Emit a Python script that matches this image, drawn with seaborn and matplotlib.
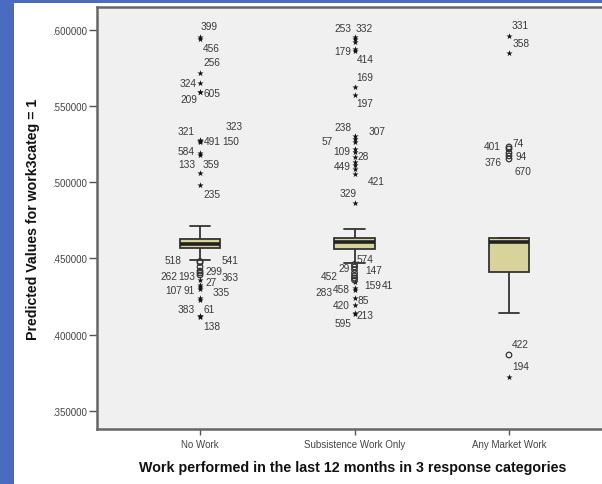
import numpy as np
import pandas as pd
import seaborn as sns
import matplotlib.pyplot as plt
from matplotlib.patches import Rectangle
from matplotlib.ticker import FuncFormatter

groups = ["No Work", "Subsistence Work Only", "Any Market Work"]

# five-number summaries: low whisker, Q1, median, Q3, high whisker
box_nowork = [0.4492, 0.4568, 0.4598, 0.4627, 0.4715]
box_subsist = [0.4468, 0.4562, 0.4610, 0.4634, 0.4693]
box_market = [0.4142, 0.4413, 0.4610, 0.4631, 0.4634]

# outliers / extremes (o = outlier, * = extreme, as SPSS draws them)
nowork_vals = [0.5952, 0.5941, 0.5718, 0.5650, 0.5595, 0.5590, 0.5273, 0.5269,
               0.5266, 0.5278, 0.5192, 0.5179, 0.5061, 0.4984,
               0.4480, 0.4473, 0.4444, 0.4417, 0.4404, 0.4391, 0.4358, 0.4326,
               0.4312, 0.4299, 0.4240, 0.4227, 0.4122, 0.4119, 0.4115]
nowork_ids = ["399", "456", "256", "324", "605", "209", "321", "491",
              "150", "323", "584", "133", "359", "235",
              "518", "541", "299", "193", "262", "363", "27", "91",
              "107", "335", "", "", "383", "61", "138"]
nowork_kind = ["*"] * 14 + ["o"] * 6 + ["*"] * 9

subsist_vals = [0.5951, 0.5941, 0.5924, 0.5875, 0.5862, 0.5624, 0.5575, 0.5301,
                0.5284, 0.5265, 0.5219, 0.5199, 0.5166, 0.5133, 0.5113, 0.5087,
                0.5054, 0.4864,
                0.4460, 0.4444, 0.4427, 0.4404, 0.4385, 0.4371, 0.4358, 0.4345,
                0.4306, 0.4293, 0.4240, 0.4197, 0.4142, 0.4135]
subsist_ids = ["253", "332", "", "179", "414", "169", "197", "238",
               "307", "57", "109", "28", "", "449", "", "",
               "421", "329",
               "574", "29", "147", "452", "", "", "159", "41",
               "458", "283", "85", "420", "213", "595"]
subsist_kind = ["*"] * 18 + ["o"] * 7 + ["*"] * 7

market_vals = [0.5963, 0.5847, 0.5232, 0.5219, 0.5192, 0.5173, 0.5153, 0.3866, 0.3723]
market_ids = ["331", "358", "401", "74", "94", "376", "670", "422", "194"]
market_kind = ["*", "*", "o", "o", "o", "o", "o", "o", "*"]

# label placement: pixel offset from the marker (dx, dy downwards) and alignment
nowork_lab = [(1, -11, "left"), (3, 9, "left"), (3, -11, "left"), (-3, 0, "right"),
              (3, 1, "left"), (-3, 7, "right"), (-5, -10, "right"), (4, 0, "left"),
              (22, -1, "left"), (26, -14, "left"), (-5, -2, "right"), (-5, 9, "right"),
              (3, -9, "left"), (3, 9, "left"),
              (-18, -1.5, "right"), (22, -2.5, "left"), (5, 4, "left"), (-5, 5, "right"),
              (-23, 3, "right"), (22, 2, "left"), (5, 2, "left"), (-5, 5, "right"),
              (-18, 3, "right"), (13, 3, "left"), (0, 0, "left"), (0, 0, "left"),
              (-5, -7, "right"), (3, -7.5, "left"), (3, 9, "left")]
subsist_lab = [(-3, -9.5, "right"), (1, -11, "left"), (0, 0, "left"), (-3, 2, "right"),
               (2, 8, "left"), (2, -10, "left"), (2, 8, "left"), (-3, -9.5, "right"),
               (14, -8, "left"), (-22, -1, "right"), (-4, 2, "right"), (3, 4, "left"),
               (0, 0, "left"), (-4, 4, "right"), (0, 0, "left"), (0, 0, "left"),
               (13, 7, "left"), (-6, -10, "center"),
               (2, -5.5, "left"), (-5, 1, "right"), (11, 0.5, "left"), (-17, 3, "right"),
               (0, 0, "left"), (0, 0, "left"), (10, 5, "left"), (27, 3, "left"),
               (-5, 1, "right"), (-22, 2, "right"), (3, 2, "left"), (-5, 0.5, "right"),
               (2, 2, "left"), (-3, 9, "right")]
market_lab = [(3, -10.5, "left"), (4, -10, "left"), (-8, -1, "right"), (4, -6, "left"),
              (7, 3, "left"), (-7, 6, "right"), (6, 12, "left"), (3, -11, "left"),
              (3, -10.5, "left")]

boxes = pd.DataFrame({
    "group": np.repeat(groups, 5),
    "value": box_nowork + box_subsist + box_market,
})

outl = pd.DataFrame({
    "group": [groups[0]] * len(nowork_vals) + [groups[1]] * len(subsist_vals)
             + [groups[2]] * len(market_vals),
    "value": nowork_vals + subsist_vals + market_vals,
    "id": nowork_ids + subsist_ids + market_ids,
    "kind": nowork_kind + subsist_kind + market_kind,
})
outl["pos"] = outl["group"].map({g: i for i, g in enumerate(groups)})
placement = nowork_lab + subsist_lab + market_lab

sns.set_style("white")
plt.rcParams["font.family"] = ["Liberation Sans", "DejaVu Sans"]

fig = plt.figure(figsize=(6.02, 4.85), dpi=100, facecolor="#4b6bc0")
fig.patches.append(Rectangle((14 / 602, 0), 1, 1 - 4 / 485, transform=fig.transFigure,
                             facecolor="white", edgecolor="none", zorder=-10))
ax = fig.add_axes([97 / 602, 55 / 485, 511 / 602, 422 / 485])
ax.set_facecolor("#f0f0f0")

sns.boxplot(data=boxes, x="group", y="value", order=groups, ax=ax,
            width=0.26, whis=(0, 100), showfliers=False, saturation=1,
            color="#d8d39b", linecolor="#333333", linewidth=1.3,
            medianprops=dict(color="#222222", linewidth=2.6))

stars = outl[outl["kind"] == "*"]
circles = outl[outl["kind"] == "o"]
sns.scatterplot(data=stars, x="pos", y="value", marker="*", s=22, color="#111111",
                linewidth=0, ax=ax, zorder=4)
sns.scatterplot(data=circles, x="pos", y="value", marker="o", s=16, color="#333333",
                linewidth=0.9, ax=ax, zorder=4)
ax.collections[-1].set_facecolor("none")
ax.collections[-1].set_edgecolor("#333333")

for (_, row), (dx, dy, ha) in zip(outl.iterrows(), placement):
    if row["id"]:
        ax.annotate(row["id"], (row["pos"], row["value"]), xytext=(dx, -dy),
                    textcoords="offset pixels", ha=ha, va="center",
                    fontsize=7.3, color="#3a3a3a", zorder=5)

ax.set_xlim(-0.667, 2.641)
ax.set_ylim(0.3380, 0.6151)
ax.set_yticks([0.35, 0.40, 0.45, 0.50, 0.55, 0.60])
ax.yaxis.set_major_formatter(FuncFormatter(lambda v, p: f"{v:.6f}".lstrip("0")))
ax.tick_params(axis="y", direction="out", length=6, width=1, color="#555555",
               labelsize=7, labelcolor="#444444", left=True, pad=1)
ax.tick_params(axis="x", direction="out", length=4, width=1, color="#555555",
               labelsize=7, labelcolor="#444444", bottom=True, pad=3)

for side in ["left", "bottom", "top"]:
    ax.spines[side].set_color("#666666")
    ax.spines[side].set_linewidth(1.8)
ax.spines["right"].set_visible(False)

ax.set_xlabel("Work performed in the last 12 months in 3 response categories",
              fontsize=10.3, fontweight="bold", color="#111111", labelpad=8)
ax.set_ylabel("Predicted Values for work3categ = 1", fontsize=10.2,
              fontweight="bold", color="#111111", labelpad=9)

fig.savefig("out.png", dpi=100, facecolor=fig.get_facecolor())
